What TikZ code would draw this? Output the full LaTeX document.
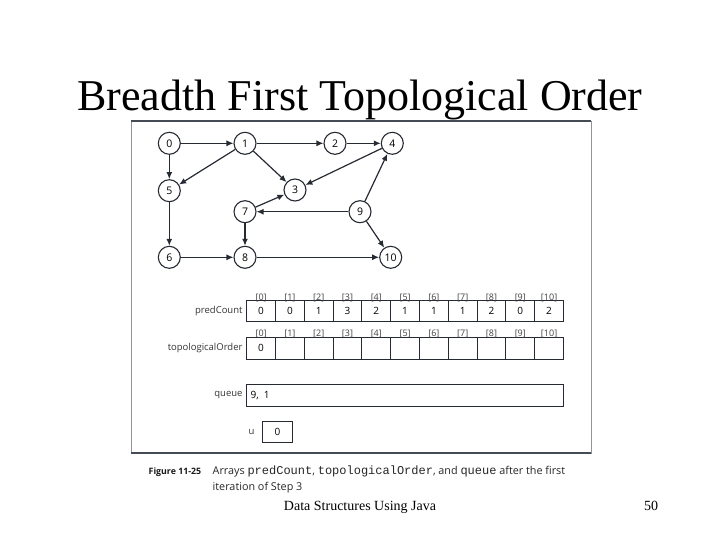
\documentclass[tikz,border=0pt]{standalone}
\usepackage{fontspec}
\setmainfont{Liberation Serif}
\setsansfont{Open Sans}
\setmonofont{Liberation Mono}
\usetikzlibrary{arrows.meta}
\definecolor{ink}{RGB}{38,42,50}
\definecolor{frame}{RGB}{70,76,86}
\begin{document}
\begin{tikzpicture}[x=1pt,y=-1pt,every node/.style={inner sep=1.5pt},
    vtx/.style={draw=ink,circle,line width=1.1pt,minimum size=22pt,inner sep=0pt,font=\sffamily\fontsize{10.5}{12}\selectfont},
    arc/.style={draw=ink,line width=1.2pt,-{Latex[length=7pt,width=6pt]}},
    cell/.style={draw=ink,line width=1pt,minimum width=28.8pt,minimum height=21.5pt,inner sep=0pt,font=\sffamily\fontsize{10}{12}\selectfont},
    idx/.style={font=\sffamily\fontsize{9}{10}\selectfont,text=black!75,anchor=south,inner sep=1pt},
    lbl/.style={font=\sffamily\fontsize{9.5}{11}\selectfont,text=black!80,anchor=east}]
  \useasboundingbox (0,0) rectangle (720,540);
  \node (title) at (360,111) [anchor=base,font=\fontsize{44}{50}\selectfont] {Breadth First Topological Order};
  % figure frame
  \draw[frame!60,line width=0.8pt] (131,121) rectangle (591,453);
  \draw[frame,line width=1.8pt] (131,121) -- (591,121);
  \draw[frame,line width=1.4pt] (131,453) -- (591,453);
  % graph
  \node[vtx] (v0) at (169.3,143.3) {0};
  \node[vtx] (v1) at (245,143.3) {1};
  \node[vtx] (v2) at (335,143.3) {2};
  \node[vtx] (v4) at (392.3,143.3) {4};
  \node[vtx] (v5) at (169.3,190.7) {5};
  \node[vtx] (v3) at (295,190) {3};
  \node[vtx] (v7) at (245,211.7) {7};
  \node[vtx] (v9) at (360,211.7) {9};
  \node[vtx] (v6) at (169.3,257.3) {6};
  \node[vtx] (v8) at (245,257.3) {8};
  \node[vtx] (v10) at (390.7,257.3) {10};
  \foreach \a/\b in {0/1,0/5,1/2,1/5,1/3,2/4,4/3,7/3,9/7,9/4,9/10,5/6,6/8,7/8,8/10}
    \draw[arc] (v\a) -- (v\b);
  % arrays
  \foreach \v [count=\i from 0] in {0,0,1,3,2,1,1,1,2,0,2} {
    \node[cell] (pc\i) at (261.1+28.8*\i,311) {\v};
    \node[idx] at ([yshift=-3pt]pc\i.north) {[\i]};
  }
  \node[lbl] (pcl) at ([xshift=-2pt]pc0.west) {predCount};
  \foreach \v [count=\i from 0] in {0,,,,,,,,,,} {
    \node[cell] (to\i) at (261.1+28.8*\i,348.3) {\v};
    \node[idx] at ([yshift=-2.5pt]to\i.north) {[\i]};
  }
  \node[lbl] (tol) at ([xshift=-2pt]to0.west) {topologicalOrder};
  \node[cell,minimum width=316.6pt,text width=308.6pt,inner sep=4pt,align=left] (queue) at (405,395.5) {9,\enspace1};
  \node[lbl] (ql) at ([xshift=-2pt]queue.west) {queue};
  \node[cell,minimum width=29.6pt,minimum height=21pt] (u) at (277.5,432.2) {0};
  \node[lbl] (ul) at ([xshift=-6pt]u.west) {u};
  % caption
  \node[anchor=base west,font=\sffamily\bfseries\fontsize{8.8}{11}\selectfont,text=black!90] (fig) at (147,474.5) {Figure 11-25};
  \node[anchor=base west,font=\sffamily\fontsize{10.8}{12}\selectfont,text=black!85] (cap1) at (211,474.5) {Arrays {\fontsize{12}{12}\ttfamily predCount}, {\fontsize{12}{12}\ttfamily topologicalOrder}, and {\fontsize{12}{12}\ttfamily queue} after the first};
  \node[anchor=base west,font=\sffamily\fontsize{10.8}{12}\selectfont,text=black!85] (cap2) at (211,490.5) {iteration of Step 3};
  % footer
  \node[anchor=base,font=\fontsize{14}{16}\selectfont] (foot) at (360,510) {Data Structures Using Java};
  \node[anchor=base,font=\fontsize{14}{16}\selectfont] (page) at (651,510) {50};
\end{tikzpicture}
\end{document}
